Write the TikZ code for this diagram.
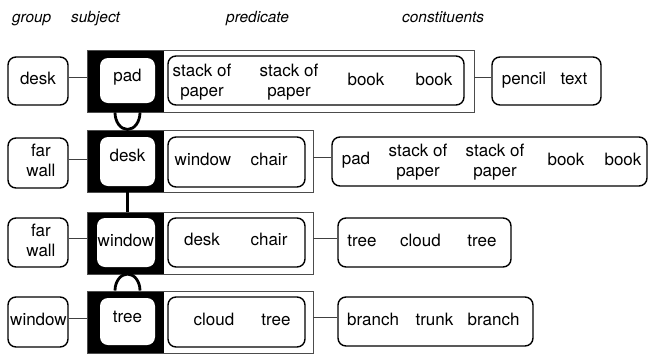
\documentclass[tikz,border=0pt]{standalone}
\usepackage{fontspec}
\setmainfont{TeX Gyre Heros}
\usetikzlibrary{fit}
\begin{document}
\begin{tikzpicture}[x=1pt,y=-1pt,
  frame/.style={draw=black!70, line width=0.9pt, inner sep=0pt},
  blk/.style={fill=black, inner sep=0pt},
  rbox/.style={draw=black, line width=1.4pt, rounded corners=8pt, inner sep=0pt},
  subj/.style={fill=white, rounded corners=8pt, inner sep=0pt},
  txt/.style={font=\fontsize{17}{20}\selectfont, inner sep=0pt, anchor=base},
  txttwo/.style={font=\fontsize{17}{20}\selectfont, inner sep=0pt, anchor=north, align=center},
  hdr/.style={font=\fontsize{15.4}{18}\selectfont\itshape, inner sep=0pt, anchor=base west},
  link/.style={draw=black!75, line width=0.9pt},
  tie/.style={draw=black, line width=2.8pt}]
\useasboundingbox (0,0) rectangle (649,354);

% headers
\node[hdr] (h1) at (12,22.7) {group};
\node[hdr] (h2) at (71,22.7) {subject};
\node[hdr] (h3) at (226,22.7) {predicate};
\node[hdr] (h4) at (402,22.7) {constituents};

% ---------- row 1
\node[blk, fit={(87,50) (164,112)}] (b1) {};
\node[frame, fit={(87,50) (474,112)}] (f1) {};
\node[subj, fit={(100,58) (155,103)}] (s1) {};
\node[rbox, fit={(8,57) (68,105)}] (g1) {};
\node[rbox, fit={(168,56) (464,105)}] (p1) {};
\node[rbox, fit={(492,57) (601,105)}] (c1) {};
\node[txt] (g1t) at (38,84.3) {desk};
\node[txt] (s1t) at (127.5,81) {pad};
\node[txttwo] (p1a) at (202,63.8) {stack of\\paper};
\node[txttwo] (p1b) at (289,63.8) {stack of\\paper};
\node[txt] (p1c) at (366,85) {book};
\node[txt] (p1d) at (434,85) {book};
\node[txt] (c1a) at (524,84.5) {pencil};
\node[txt] (c1b) at (574,84.5) {text};

% ---------- row 2
\node[blk, fit={(87,130) (164,192)}] (b2) {};
\node[frame, fit={(87,130) (313,192)}] (f2) {};
\node[subj, fit={(100,137) (155,186)}] (s2) {};
\node[rbox, fit={(8,138) (68,188)}] (g2) {};
\node[rbox, fit={(168,137) (305,187)}] (p2) {};
\node[rbox, fit={(332,137) (647,186)}] (c2) {};
\node[txttwo] (g2t) at (41,144.3) {far\\wall};
\node[txt] (s2t) at (127.5,161.5) {desk};
\node[txt] (p2a) at (203,165) {window};
\node[txt] (p2b) at (269,165) {chair};
\node[txt] (c2a) at (356,164) {pad};
\node[txttwo] (c2b) at (418,143.8) {stack of\\paper};
\node[txttwo] (c2c) at (495,143.8) {stack of\\paper};
\node[txt] (c2d) at (566,165) {book};
\node[txt] (c2e) at (623,165) {book};

% ---------- row 3
\node[blk, fit={(87,212) (164,274)}] (b3) {};
\node[frame, fit={(87,212) (313,274)}] (f3) {};
\node[subj, fit={(97,218) (155,267)}] (s3) {};
\node[rbox, fit={(8,218) (68,267)}] (g3) {};
\node[rbox, fit={(168,218) (305,267)}] (p3) {};
\node[rbox, fit={(338,218) (511,267)}] (c3) {};
\node[txttwo] (g3t) at (41,223.8) {far\\wall};
\node[txt] (s3t) at (126,246.7) {window};
\node[txt] (p3a) at (202,245) {desk};
\node[txt] (p3b) at (269,245) {chair};
\node[txt] (c3a) at (362,246) {tree};
\node[txt] (c3b) at (420.5,246) {cloud};
\node[txt] (c3c) at (482,246) {tree};

% ---------- row 4
\node[blk, fit={(87,291) (164,353)}] (b4) {};
\node[frame, fit={(87,291) (313,353)}] (f4) {};
\node[subj, fit={(100,298) (155,345)}] (s4) {};
\node[rbox, fit={(8,297) (68,347)}] (g4) {};
\node[rbox, fit={(168,297) (305,347)}] (p4) {};
\node[rbox, fit={(338,297) (533,346)}] (c4) {};
\node[txt] (g4t) at (38.5,325) {window};
\node[txt] (s4t) at (127.5,322.7) {tree};
\node[txt] (p4a) at (214,325) {cloud};
\node[txt] (p4b) at (276,325) {tree};
\node[txt] (c4a) at (373,325) {branch};
\node[txt] (c4b) at (434.5,325) {trunk};
\node[txt] (c4c) at (493.5,325) {branch};

% ---------- connectors: group -> frame, frame -> constituents
\foreach \g/\f/\c in {g1/f1/c1, g2/f2/c2, g3/f3/c3, g4/f4/c4}{
  \path (\g.east) ++(0,-4) coordinate (\g l);
  \draw[link] (\g l) -- (\g l -| \f.west);
  \path (\c.west) ++(0,-4) coordinate (\c l);
  \draw[link] (\c l -| \f.east) -- (\c l);
}

% ---------- ties between rows
\draw[tie] (s1 |- f1.south) ++(-12.5,0) arc[start angle=180, end angle=0, x radius=12.5, y radius=17];
\draw[tie] (s2 |- f2.south) -- (s2 |- f3.north);
\draw[tie] (s4 |- f4.north) ++(-12.5,0) arc[start angle=180, end angle=360, x radius=12.5, y radius=16.5];
\end{tikzpicture}
\end{document}
